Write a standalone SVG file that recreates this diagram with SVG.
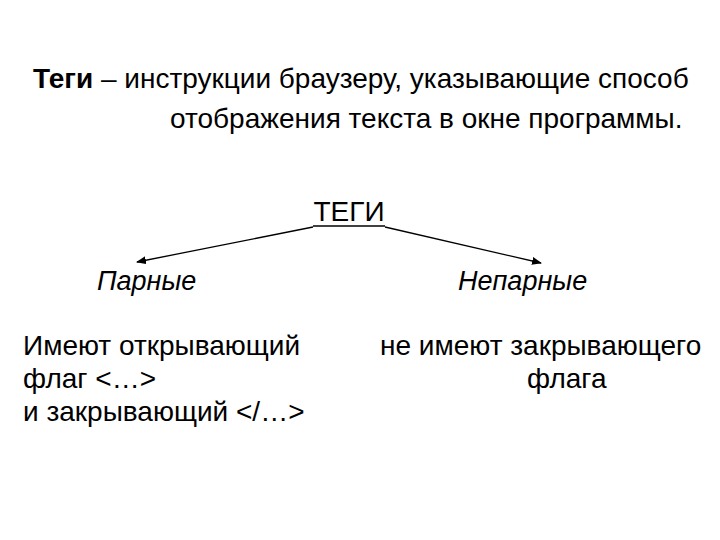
<svg xmlns="http://www.w3.org/2000/svg" width="720" height="540" viewBox="0 0 720 540">
<style>
text{font-family:"Liberation Sans",Arial,sans-serif;font-size:28px;fill:#000}
.i{font-style:italic;font-size:27px}
.c line{stroke:#000;stroke-width:1.3}
</style>
<defs><marker id="a" markerWidth="10" markerHeight="8" refX="9" refY="4" orient="auto" markerUnits="userSpaceOnUse"><path d="M0,0 L10,4 L0,8 z" fill="#000"/></marker></defs>
<rect width="720" height="540" fill="#fff"/>
<g id="title"><text x="33" y="88"><tspan font-weight="bold">Теги</tspan> – инструкции браузеру, указывающие способ</text>
<text x="170" y="128">отображения текста в окне программы.</text></g>
<g id="root"><text x="349" y="221" text-anchor="middle">ТЕГИ</text><line x1="313" y1="226" x2="385" y2="226" stroke="#000" stroke-width="1.5"/></g>
<g id="left"><text x="97" y="290" class="i">Парные</text></g>
<g id="right"><text x="458" y="290" class="i">Непарные</text></g>
<g id="leftdesc"><text x="23" y="355">Имеют открывающий</text><text x="23" y="388">флаг &lt;…&gt;</text><text x="23" y="421">и закрывающий &lt;/…&gt;</text></g>
<g id="rightdesc"><text x="380" y="355">не имеют закрывающего</text><text x="527" y="388">флага</text></g>
<g class="c" id="connectors"><line x1="313" y1="227" x2="137" y2="262" marker-end="url(#a)"/><line x1="385" y1="227" x2="541" y2="263" marker-end="url(#a)"/></g>
</svg>
